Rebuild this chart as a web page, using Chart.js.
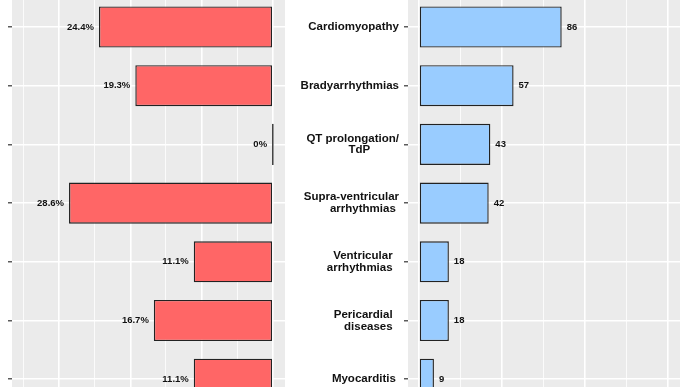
<!DOCTYPE html>
<html>
<head>
<meta charset="utf-8">
<script src="https://cdn.jsdelivr.net/npm/chart.js@4.4.1/dist/chart.umd.min.js"></script>
<style>
  html, body { margin: 0; padding: 0; background: #fff; overflow: hidden; }
  #wrap { position: relative; width: 688px; height: 387px; overflow: hidden; }
  canvas { position: absolute; }
  #left { left: 0; top: -10px; }
  #right { left: 290px; top: -10px; }
</style>
</head>
<body>
<div id="wrap">
  <canvas id="left" width="290" height="430"></canvas>
  <canvas id="right" width="398" height="430"></canvas>
</div>
<script>
const categories = [
  "Cardiomyopathy",
  "Bradyarrhythmias",
  "QT prolongation/\nTdP",
  "Supra-ventricular\narrhythmias",
  "Ventricular\narrhythmias",
  "Pericardial\ndiseases",
  "Myocarditis"
];
const percentValues = [24.4, 19.3, 0, 28.6, 11.1, 16.7, 11.1];
const countValues = [86, 57, 43, 42, 18, 18, 9];
const percentTicks = [0, 5, 10, 15, 20, 25, 30, 35];
const countTicks = [0, 25, 50, 75, 100, 125, 150];

// trailing spaces per label line, the original's lines don't share one right edge
const lineIndent = [[0], [0], [0, 9], [0, 1], [2, 2], [2, 2], [1]];

Chart.defaults.font.family = "'Liberation Sans', Arial, sans-serif";

const panelBg = {
  id: "panelBg",
  beforeDraw(chart) {
    const { ctx, chartArea: a } = chart;
    ctx.save();
    ctx.fillStyle = "#EBEBEB";
    ctx.fillRect(a.left, a.top, a.right - a.left, a.bottom - a.top);
    ctx.restore();
  }
};

function barLabels(side, format) {
  return {
    id: "barLabels",
    afterDatasetsDraw(chart) {
      const ctx = chart.ctx;
      const data = chart.data.datasets[0].data;
      ctx.save();
      ctx.font = "bold 9.5px 'Liberation Sans', Arial, sans-serif";
      ctx.fillStyle = "#111";
      ctx.textBaseline = "middle";
      chart.getDatasetMeta(0).data.forEach((bar, i) => {
        if (side === "left") {
          ctx.textAlign = "right";
          ctx.fillText(format(data[i]), Math.min(bar.x, bar.base) - 5, bar.y);
        } else {
          ctx.textAlign = "left";
          ctx.fillText(format(data[i]), Math.max(bar.x, bar.base) + 5, bar.y);
        }
      });
      ctx.restore();
    }
  };
}

function gridWidth(majorEvery) {
  return c => (c.tick && c.tick.value % majorEvery === 0 ? 1.6 : 0.8);
}

// keep tick labels from pushing the panel edges around
function fixWidth(w) {
  return s => { s.width = w; s.paddingTop = 0; s.paddingBottom = 0; };
}

function makeChart(id, values, color, xOpts, yOpts, side, format, padding) {
  return new Chart(document.getElementById(id), {
    type: "bar",
    data: {
      labels: categories,
      datasets: [{
        data: values,
        backgroundColor: color,
        borderColor: "#222222",
        borderWidth: 1.4,
        borderSkipped: false,
        barPercentage: 0.7,
        categoryPercentage: 1.0,
        minBarLength: 1.6
      }]
    },
    options: {
      indexAxis: "y",
      responsive: false,
      animation: false,
      layout: { padding: padding },
      plugins: { legend: { display: false }, tooltip: { enabled: false } },
      scales: { x: xOpts, y: yOpts }
    },
    plugins: [panelBg, barLabels(side, format)]
  });
}

const leftChart = makeChart("left", percentValues, "#FF6666",
  {
    reverse: true, min: -1.7, max: 36.6,
    afterBuildTicks: s => { s.ticks = percentTicks.map(v => ({ value: v })); },
    afterFit: s => { s.height = 0; },
    ticks: { display: false },
    grid: { color: "#fff", lineWidth: gridWidth(10), drawTicks: false },
    border: { display: false }
  },
  {
    afterFit: fixWidth(4),
    ticks: { display: false },
    grid: { color: "#fff", lineWidth: 1.6, offset: false, tickColor: "#333", tickLength: 4, tickWidth: 1.2 },
    border: { display: false }
  },
  "left", v => (v === 0 ? "0%" : v.toFixed(1) + "%"),
  { left: 8, right: 5, top: 7.65, bottom: 11.45 }
);

const rightChart = makeChart("right", countValues, "#99CCFF",
  {
    min: -6.63, max: 157.3,
    afterBuildTicks: s => { s.ticks = countTicks.map(v => ({ value: v })); },
    afterFit: s => { s.height = 0; },
    ticks: { display: false },
    grid: { color: "#fff", lineWidth: gridWidth(50), drawTicks: false },
    border: { display: false }
  },
  {
    afterFit: fixWidth(118),
    ticks: {
      padding: 5,
      autoSkip: false,
      color: "#111",
      font: { size: 11.5, weight: "bold", lineHeight: 1.02 },
      callback: (value, i) => categories[i].split("\n").map((line, k) => line + " ".repeat(lineIndent[i][k]))
    },
    grid: { color: "#fff", lineWidth: 1.6, offset: false, tickColor: "#333", tickLength: 4, tickWidth: 1.2 },
    border: { display: false }
  },
  "right", v => String(v),
  { left: 0, right: 8, top: 7.65, bottom: 11.45 }
);
</script>
</body>
</html>
